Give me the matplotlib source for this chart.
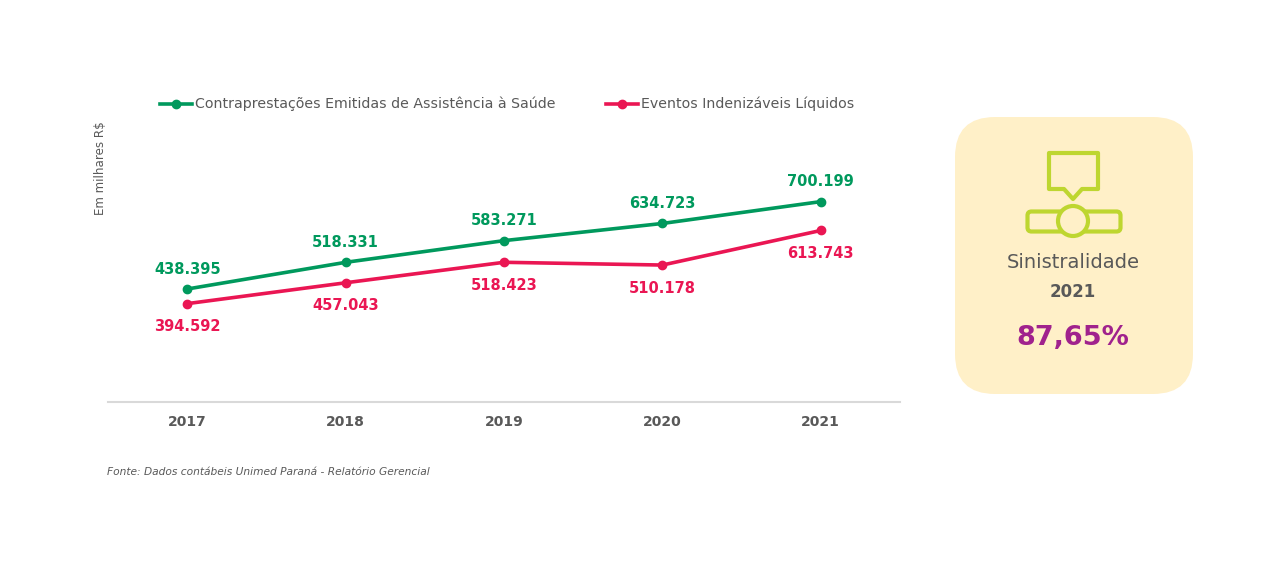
import numpy as np
import matplotlib.pyplot as plt
from matplotlib.patches import FancyBboxPatch, Circle, Polygon

anos = ['2017', '2018', '2019', '2020', '2021']
contraprestacoes = [438.395, 518.331, 583.271, 634.723, 700.199]
eventos = [394.592, 457.043, 518.423, 510.178, 613.743]
rotulo_contra = ['438.395', '518.331', '583.271', '634.723', '700.199']
rotulo_eventos = ['394.592', '457.043', '518.423', '510.178', '613.743']

serie_verde = 'Contraprestações Emitidas de Assistência à Saúde'
serie_vermelha = 'Eventos Indenizáveis Líquidos'
sinistralidade = '87,65%'

verde = '#00995D'
vermelho = '#EA1653'
roxo = '#A0228D'
cinza = '#595959'
amarelo = '#FFF0C8'
verde_claro = '#BED630'

W, H = 1280, 567
fig = plt.figure(figsize=(12.8, 5.67), dpi=100)

# fundo em pixels para o card e os textos soltos
bg = fig.add_axes([0, 0, 1, 1])
bg.set_xlim(0, W)
bg.set_ylim(H, 0)
bg.axis('off')

ax = fig.add_axes([108 / W, (H - 402) / H, 792 / W, 300.5 / H])
x = np.arange(len(anos))
ax.plot(x, contraprestacoes, color=verde, lw=2.6, marker='o', ms=6, zorder=3)
ax.plot(x, eventos, color=vermelho, lw=2.6, marker='o', ms=6, zorder=3)
ax.set_xlim(-0.5, 4.5)
ax.set_ylim(100, 1000)

for i in range(len(anos)):
    ax.annotate(rotulo_contra[i], (x[i], contraprestacoes[i]), xytext=(0, 20),
                textcoords='offset pixels', ha='center', va='center',
                fontsize=10.5, fontweight='bold', color=verde)
    ax.annotate(rotulo_eventos[i], (x[i], eventos[i]), xytext=(0, -23),
                textcoords='offset pixels', ha='center', va='center',
                fontsize=10.5, fontweight='bold', color=vermelho)

for s in ['top', 'right', 'left']:
    ax.spines[s].set_visible(False)
ax.spines['bottom'].set_color('#D9D9D9')
ax.spines['bottom'].set_linewidth(1.5)
ax.set_yticks([])
ax.set_xticks(x)
ax.set_xticklabels(anos, fontsize=10, fontweight='bold', color=cinza)
ax.tick_params(axis='x', length=0, pad=9)
ax.patch.set_alpha(0)

# legenda manual
bg.plot([160, 192], [104, 104], color=verde, lw=2.6)
bg.plot([176], [104], 'o', color=verde, ms=6)
bg.text(195, 104, serie_verde, fontsize=10.2, color=cinza, va='center', ha='left')
bg.plot([606, 638], [104, 104], color=vermelho, lw=2.6)
bg.plot([622], [104], 'o', color=vermelho, ms=6)
bg.text(641, 104, serie_vermelha, fontsize=10.2, color=cinza, va='center', ha='left')

bg.text(101, 168, 'Em milhares R$', rotation=90, fontsize=8.6, color=cinza,
        ha='center', va='center')
bg.text(107, 472, 'Fonte: Dados contábeis Unimed Paraná - Relatório Gerencial',
        fontsize=7.7, style='italic', color=cinza, ha='left', va='center')

# card
card = FancyBboxPatch((955 + 40, 117 + 40), 238 - 80, 277 - 80,
                      boxstyle='round,pad=40', fc=amarelo, ec='none')
bg.add_patch(card)
balao = Polygon([(1049, 153), (1098, 153), (1098, 189), (1082, 189), (1073, 199),
                 (1064, 189), (1049, 189)], closed=True, fc='none',
                ec=verde_claro, lw=3, joinstyle='round')
bg.add_patch(balao)
barra = FancyBboxPatch((1029, 213), 90, 17, boxstyle='round,pad=1.5,rounding_size=4',
                       fc='none', ec=verde_claro, lw=3)
bg.add_patch(barra)
bg.add_patch(Circle((1073, 221), 15, fc=amarelo, ec=verde_claro, lw=3, zorder=3))

bg.text(1073, 263, 'Sinistralidade', fontsize=14, color=cinza, ha='center', va='center')
bg.text(1073, 292, '2021', fontsize=12, fontweight='bold', color=cinza,
        ha='center', va='center')
bg.text(1073, 338, sinistralidade, fontsize=19.5, fontweight='bold', color=roxo,
        ha='center', va='center')

fig.savefig('out.png', dpi=100)
